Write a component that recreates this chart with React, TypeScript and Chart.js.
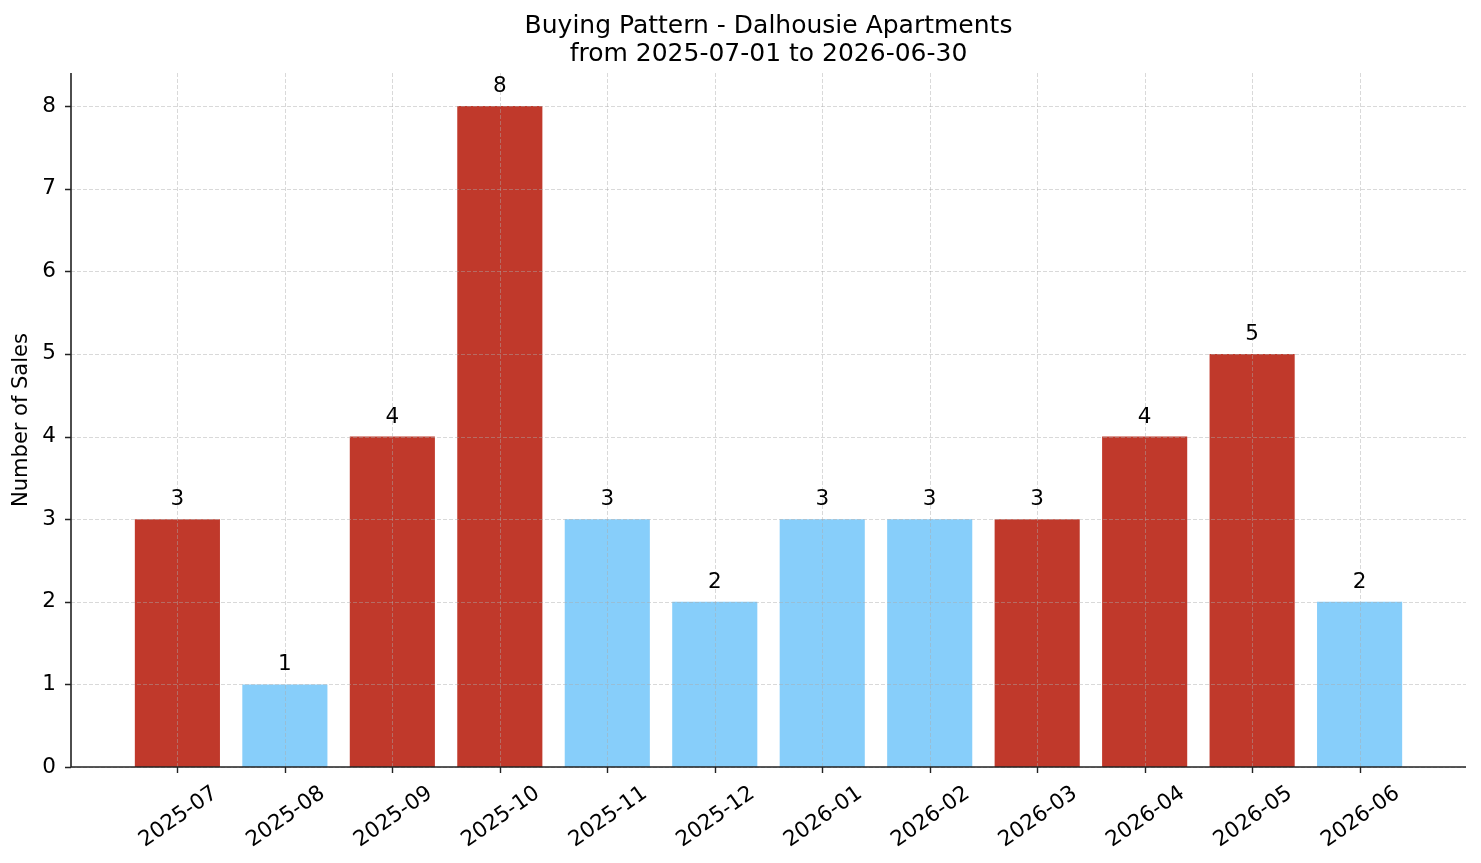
import React, { useEffect, useRef } from "react";
import { Chart, registerables } from "chart.js";

Chart.register(...registerables);

// Monthly sales counts
const months = [
  "2025-07", "2025-08", "2025-09", "2025-10", "2025-11", "2025-12",
  "2026-01", "2026-02", "2026-03", "2026-04", "2026-05", "2026-06",
];
const sales = [3, 1, 4, 8, 3, 2, 3, 3, 3, 4, 5, 2];
// Months shown in the accent colour
const highlighted = [true, false, true, true, false, false, false, false, true, true, true, false];
const yTicks = [0, 1, 2, 3, 4, 5, 6, 7, 8];

const titleLines = ["Buying Pattern - Dalhousie Apartments", "from 2025-07-01 to 2026-06-30"];
const yAxisTitle = "Number of Sales";

const RED = "#c0392b";
const BLUE = "#87cefa";
const INK = "#222222";
const FONT = "'DejaVu Sans', sans-serif";
const TICK_SIZE = 21.5;

const overlayPlugin = {
  id: "overlay",
  afterDraw(chart: any) {
    const { ctx, chartArea } = chart;
    const xs = chart.scales.x;
    const ys = chart.scales.y;
    const { left, right, top, bottom } = chartArea;

    ctx.save();

    // dashed grid drawn above the bars
    ctx.strokeStyle = "rgba(170,170,170,0.5)";
    ctx.lineWidth = 0.9;
    ctx.setLineDash([4, 2]);
    ctx.beginPath();
    months.forEach((_, i) => {
      const px = Math.round(xs.getPixelForValue(i)) + 0.5;
      ctx.moveTo(px, top);
      ctx.lineTo(px, bottom);
    });
    yTicks.forEach((v) => {
      const py = Math.round(ys.getPixelForValue(v)) + 0.5;
      ctx.moveTo(left, py);
      ctx.lineTo(right, py);
    });
    ctx.stroke();
    ctx.setLineDash([]);

    // spines
    ctx.strokeStyle = INK;
    ctx.lineWidth = 1.6;
    ctx.beginPath();
    ctx.moveTo(left, top);
    ctx.lineTo(left, bottom);
    ctx.lineTo(right, bottom);
    ctx.stroke();

    // tick marks
    ctx.lineWidth = 1.4;
    ctx.beginPath();
    yTicks.forEach((v) => {
      const py = Math.round(ys.getPixelForValue(v)) + 0.5;
      ctx.moveTo(left - 6, py);
      ctx.lineTo(left, py);
    });
    months.forEach((_, i) => {
      const px = Math.round(xs.getPixelForValue(i)) + 0.5;
      ctx.moveTo(px, bottom);
      ctx.lineTo(px, bottom + 6);
    });
    ctx.stroke();

    // rotated month labels, bounding box centred under each tick
    ctx.font = `${TICK_SIZE}px ${FONT}`;
    ctx.fillStyle = "#000";
    ctx.textAlign = "center";
    ctx.textBaseline = "middle";
    const ang = (35 * Math.PI) / 180;
    const h = TICK_SIZE * 1.16;
    months.forEach((m, i) => {
      const w = ctx.measureText(m).width;
      const bh = w * Math.sin(ang) + h * Math.cos(ang);
      const cx = xs.getPixelForValue(i) + 1;
      const cy = bottom + 14 + bh / 2;
      ctx.save();
      ctx.translate(cx, cy);
      ctx.rotate(-ang);
      ctx.fillText(m, 0, 0);
      ctx.restore();
    });

    // value labels above bars
    ctx.font = `${TICK_SIZE}px ${FONT}`;
    ctx.textBaseline = "alphabetic";
    sales.forEach((v, i) => {
      ctx.fillText(String(v), xs.getPixelForValue(i), ys.getPixelForValue(v) - 14);
    });

    // title
    ctx.font = `25px ${FONT}`;
    ctx.textBaseline = "middle";
    const tcx = (left + right) / 2;
    ctx.fillText(titleLines[0], tcx, 26);
    ctx.fillText(titleLines[1], tcx, 54);

    // y axis title
    ctx.font = `21px ${FONT}`;
    ctx.save();
    ctx.translate(22, (top + bottom) / 2);
    ctx.rotate(-Math.PI / 2);
    ctx.fillText(yAxisTitle, 0, 0);
    ctx.restore();

    ctx.restore();
  },
};

export default function App() {
  const canvasRef = useRef<HTMLCanvasElement | null>(null);

  useEffect(() => {
    const canvas = canvasRef.current;
    if (!canvas) return;
    const chart = new Chart(canvas, {
      type: "bar",
      data: {
        datasets: [
          {
            data: months.map((_, i) => ({ x: i, y: sales[i] })),
            backgroundColor: highlighted.map((h) => (h ? RED : BLUE)),
            borderWidth: 0,
            categoryPercentage: 0.8,
            barPercentage: 1.0,
          },
        ],
      },
      plugins: [overlayPlugin],
      options: {
        animation: false,
        responsive: false,
        devicePixelRatio: 1,
        layout: { padding: { top: 73, right: 15, left: 0, bottom: 0 } },
        plugins: {
          legend: { display: false },
          tooltip: { enabled: false },
          title: { display: false },
        },
        scales: {
          x: {
            type: "linear",
            min: -0.99,
            max: 11.99,
            offset: false,
            grid: { display: false },
            border: { display: false },
            ticks: { display: false },
            afterFit: (s: any) => {
              s.height = 96;
            },
          },
          y: {
            type: "linear",
            min: 0,
            max: 8.4,
            grid: { display: false, drawTicks: true, tickLength: 6 },
            border: { display: false },
            ticks: {
              stepSize: 1,
              color: "#000",
              padding: 9,
              font: { family: FONT, size: TICK_SIZE },
            },
            afterBuildTicks: (s: any) => {
              s.ticks = yTicks.map((v) => ({ value: v }));
            },
            afterFit: (s: any) => {
              s.width = 71;
            },
          },
        },
      } as any,
    });
    return () => chart.destroy();
  }, []);

  return (
    <div style={{ position: "absolute", left: 0, top: 0, width: 1481, height: 863, background: "#fff" }}>
      <canvas ref={canvasRef} width={1481} height={863} style={{ display: "block" }} />
    </div>
  );
}
